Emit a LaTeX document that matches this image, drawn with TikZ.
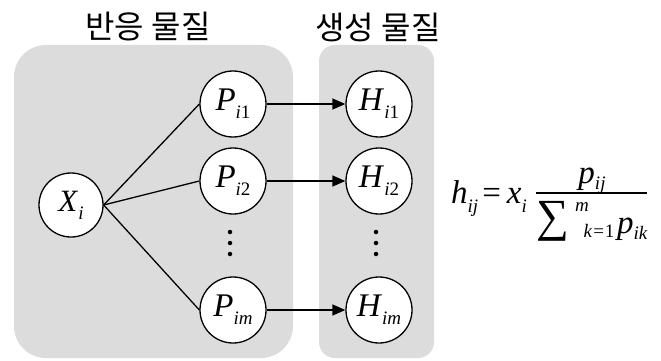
\documentclass[tikz,border=0pt]{standalone}
\usepackage{fontspec}
\setmainfont{Liberation Serif}
\newfontfamily\kor{Noto Sans CJK KR}
\usetikzlibrary{arrows.meta}
\definecolor{boxgray}{RGB}{220,220,220}
\newcommand\mainsz{\fontsize{33}{36}\selectfont}
\newcommand\subsz{\fontsize{19}{21}\selectfont}
\newcommand\V[3][8pt]{\textit{#2}\raisebox{-#1}{\subsz #3}}
\tikzset{
  panel/.style={fill=boxgray, draw=none},
  ball/.style={circle, draw=black, fill=white, line width=1.3pt, minimum size=66pt, inner sep=0pt, font=\mainsz},
  title/.style={font=\kor\fontsize{32}{36}\selectfont},
  link/.style={line width=1.3pt},
  flow/.style={line width=1.3pt, -{Triangle[length=13pt,width=11pt]}},
  dot/.style={circle, fill=black, inner sep=0pt, minimum size=4.5pt},
  eq/.style={inner sep=0pt, font=\mainsz},
  eqs/.style={inner sep=0pt, font=\subsz}
}
\begin{document}
\begin{tikzpicture}[x=1pt,y=-1pt]
\useasboundingbox (0,0) rectangle (661,361);
\fill[panel, rounded corners=32pt] (14,45) rectangle (293,358);
\fill[panel, rounded corners=16pt] (319,45) rectangle (434,358);
\node[title] (t1) at (148,27) {반응 물질};
\node[title] (t2) at (378,27) {생성 물질};
\node[ball, minimum size=64pt, font=\fontsize{31}{34}\selectfont] (X) at (71,205) {\V{X}{\textit{i}}};
\node[ball] (P1) at (233,104) {\V{P}{\textit{i}1}};
\node[ball] (P2) at (233,181) {\V{P}{\textit{i}2}};
\node[ball] (Pm) at (233,310) {\V{P}{\textit{im}}};
\node[ball] (H1) at (379,104) {\V{H}{\textit{i}1}};
\node[ball] (H2) at (379,181) {\V{H}{\textit{i}2}};
\node[ball] (Hm) at (379,310) {\V{H}{\textit{im}}};
\node[dot] (a1) at (230,232) {};
\node[dot] (a2) at (230,243) {};
\node[dot] (a3) at (230,254) {};
\node[dot] (b1) at (376,232) {};
\node[dot] (b2) at (376,243) {};
\node[dot] (b3) at (376,254) {};
\draw[link] (X.east) -- (P1.west);
\draw[link] (X.east) -- (P2.west);
\draw[link] (X.east) -- (Pm.west);
\draw[flow] (P1) -- (H1);
\draw[flow] (P2) -- (H2);
\draw[flow] (Pm) -- (Hm);
% formula
\node[eq, anchor=base west] (lhs) at (451,203) {\V[9pt]{h}{\textit{ij}}\hspace{4pt}=\hspace{6pt}\V[9pt]{x}{\textit{i}}};
\node[eq, anchor=base] (num) at (592,183) {\V[6pt]{p}{\textit{ij}}};
\draw[line width=1.3pt] (536,193) -- (647,193);
\node[inner sep=0pt, font=\fontsize{46}{48}\selectfont] (sum) at (553,221) {∑};
\node[eqs] (sup) at (582,207) {\textit{m}};
\node[eqs] (sub) at (599,231) {\textit{k}\kern1pt=\kern1pt1};
\node[eq, anchor=base west] (den) at (617,233) {\V[6pt]{p}{\textit{ik}}};
\end{tikzpicture}
\end{document}
